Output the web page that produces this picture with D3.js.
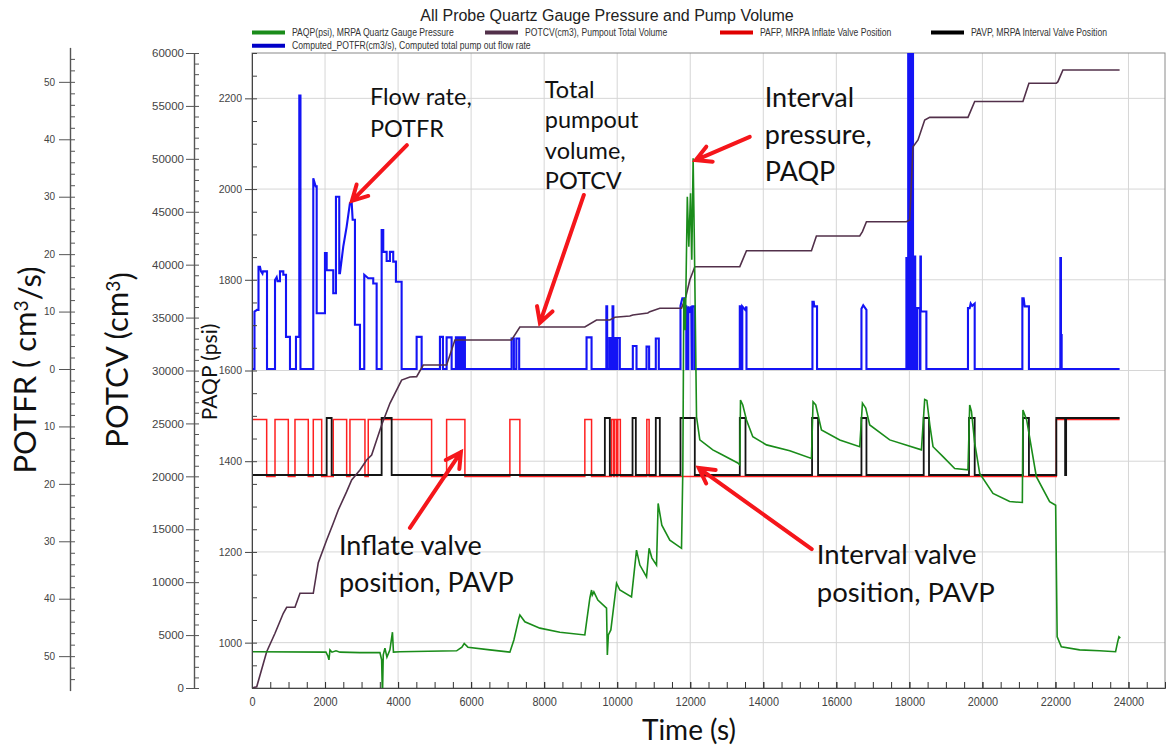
<!DOCTYPE html>
<html>
<head>
<meta charset="utf-8">
<script src="https://cdn.jsdelivr.net/npm/d3@7"></script>
<style>
  html, body { margin: 0; padding: 0; background: #fff; }
  svg { display: block; }
</style>
</head>
<body>
<svg id="chart" width="1166" height="748"></svg>
<script>
// ---- tick labels ----
const timeTicks = [0, 2000, 4000, 6000, 8000, 10000, 12000, 14000, 16000, 18000, 20000, 22000, 24000];
const paqpTicks = [1000, 1200, 1400, 1600, 1800, 2000, 2200];
const potcvTicks = [0, 5000, 10000, 15000, 20000, 25000, 30000, 35000, 40000, 45000, 50000, 55000, 60000];
const potfrTicks = [-50, -40, -30, -20, -10, 0, 10, 20, 30, 40, 50];

// ---- PAQP, interval pressure (s, psi) ----
const paqp = [
  [0, 980], [2025, 979], [2080, 970], [2107, 962], [2135, 984], [2190, 979], [2300, 982], [2409, 979],
  [2956, 978], [3503, 978], [3550, 962], [3572, 880], [3594, 973], [3640, 988], [3695, 968], [3777, 984],
  [3846, 1023], [3873, 979], [4051, 980], [5603, 982], [5748, 990], [5811, 998], [5912, 990], [6514, 984],
  [7061, 979], [7171, 1006], [7308, 1054], [7335, 1061], [7472, 1046], [7883, 1032], [8430, 1023],
  [9114, 1017], [9169, 1050], [9251, 1098], [9298, 1116], [9319, 1105], [9361, 1112], [9470, 1094],
  [9708, 1076], [9730, 973], [9758, 1017], [9826, 1028], [9982, 1131], [10072, 1116], [10392, 1101],
  [10529, 1204], [10620, 1171], [10803, 1145], [10874, 1208], [10948, 1187], [11077, 1171], [11121, 1307],
  [11222, 1259], [11441, 1226], [11761, 1208], [11797, 1381], [11824, 1760], [11865, 1689], [11920, 1983],
  [11961, 1873], [12008, 1991], [12043, 1844], [12079, 2068], [12112, 1888], [12172, 1498], [12262, 1447],
  [12618, 1425], [12809, 1417], [13302, 1396], [13357, 1392], [13376, 1535], [13439, 1524], [13540, 1491],
  [13713, 1454], [14088, 1436], [14725, 1423], [15319, 1406], [15363, 1531], [15437, 1524], [15593, 1469],
  [16094, 1447], [16641, 1432], [16715, 1528], [16805, 1517], [16915, 1480], [17462, 1447], [18330, 1425],
  [18420, 1536], [18480, 1534], [18560, 1480], [18648, 1432], [18921, 1410], [19241, 1384], [19605, 1381],
  [19652, 1524], [19700, 1510], [19790, 1440], [19926, 1373], [20290, 1329], [20746, 1311], [21094, 1309],
  [21110, 1513], [21212, 1491], [21477, 1366], [21841, 1311], [22006, 1303], [22047, 1013], [22161, 991],
  [22662, 984], [23209, 982], [23647, 980], [23702, 1001], [23738, 1013], [23776, 1010]
];

// ---- POTCV, pumpout total volume (s, cm3) ----
const potcv = [
  [0, 0], [129, 120], [402, 3430], [630, 5170], [857, 7060], [950, 7630], [1177, 7630], [1314, 8950],
  [1678, 8950], [1815, 11840], [2045, 13980], [2225, 15560], [2362, 16820], [2592, 18550], [2729, 19650],
  [2956, 20600], [3139, 21540], [3276, 22020], [3413, 23430], [3550, 24850], [3777, 26900], [4097, 29100],
  [4324, 29390], [4508, 29420], [4689, 30520], [5329, 30520], [5556, 32880], [7108, 32880], [7335, 34110],
  [9114, 34110], [9434, 34770], [9798, 34770], [9935, 35030], [10346, 35150], [10428, 35250], [10838, 35430],
  [10893, 35560], [11167, 35880], [11761, 35880], [11879, 36970], [11988, 38550], [12125, 39810],
  [13357, 39810], [13540, 41320], [15319, 41320], [15455, 42710], [16641, 42710], [16715, 43120],
  [16825, 44060], [17919, 44060], [18010, 44220], [18100, 51150], [18237, 51780], [18420, 53670],
  [18557, 53920], [19605, 53920], [19789, 55420], [21110, 55420], [21274, 57140], [22024, 57140],
  [22068, 57290], [22205, 58400], [23757, 58400]
];

// ---- Computed POTFR, pump out flow rate (s, cm3/s) ----
const potfr = [
  [0, 0], [68, 0], [68, 10], [137, 10.3], [178, 10.3], [178, 17.8], [219, 17.8], [246, 17], [287, 16.6], [301, 17], [411, 17], [411, 0],
  [630, 0], [630, 15.5], [676, 16], [698, 15.3], [766, 15.3], [766, 17], [857, 17], [857, 16.4], [931, 16.4], [931, 5.6], [1040, 5.6], [1040, 0],
  [1204, 0], [1204, 5.6], [1295, 5.6], [1295, 47.6], [1327, 47.6], [1327, 0],
  [1678, 0], [1678, 33.2], [1743, 31.8], [1771, 31.8], [1771, 9.7], [1998, 9.7], [1998, 20.2], [2045, 20.2], [2045, 17.2],
  [2225, 17.2], [2225, 13.2], [2299, 13.2], [2299, 30], [2389, 30], [2389, 16.7], [2409, 16.7], [2499, 21.3], [2592, 24.8],
  [2682, 28.9], [2729, 29.1], [2756, 26], [2819, 26], [2819, 7.7], [2956, 7.7], [2956, 0],
  [3074, 0], [3074, 16.4], [3183, 15.8], [3320, 15.8], [3320, 14.9], [3413, 14.9], [3413, 0],
  [3550, 0], [3550, 24.2], [3594, 24.2], [3594, 20.4], [3687, 20.4], [3687, 18.8], [3777, 18.8], [3777, 20.4], [3867, 20.4],
  [3867, 18.7], [3941, 18.7], [3941, 15.2], [4097, 15.2], [4097, 0],
  [4508, 0], [4508, 5.6], [4645, 5.6], [4645, 0],
  [5146, 0], [5146, 5.6], [5228, 5.6], [5228, 0], [5329, 0], [5329, 5.5], [5466, 5.5], [5466, 0],
  [5583, 0], [5583, 5.5], [5612, 5.5], [5612, 0], [5640, 0], [5640, 5.5], [5668, 5.5], [5668, 0], [5695, 0], [5695, 5.5],
  [5722, 5.5], [5722, 0], [5748, 0], [5748, 5.5], [5776, 5.5], [5776, 0], [5800, 0], [5800, 5.5], [5830, 5.5], [5830, 0],
  [7108, 0], [7108, 5.3], [7171, 5.3], [7171, 0], [7239, 0], [7239, 5.3], [7316, 5.3], [7316, 0],
  [9161, 0], [9161, 5.5], [9298, 5.5], [9298, 0],
  [9703, 0], [9703, 10.9], [9725, 10.9], [9725, 0], [9785, 0], [9785, 5.4], [9826, 5.4], [9826, 0], [9872, 0], [9872, 10.9],
  [9894, 10.9], [9894, 0], [9908, 0], [9908, 5.4], [9963, 5.4], [9963, 0], [10004, 0], [10004, 5.4], [10072, 5.4], [10072, 0],
  [10428, 0], [10428, 4], [10529, 4], [10529, 0],
  [10803, 0], [10803, 3.9], [10874, 3.9], [10874, 0],
  [11057, 0], [11057, 5.3], [11139, 5.3], [11139, 0],
  [11733, 0], [11733, 11], [11783, 12.3], [11837, 12.3], [11865, 10.9], [11892, 10.9], [11892, 0], [11947, 0], [11947, 10.9],
  [11988, 10.2], [12029, 10.9], [12043, 0], [12057, 0], [12057, 10.9], [12120, 10.9], [12120, 0],
  [13357, 0], [13357, 10.9], [13398, 10.9], [13398, 0], [13425, 0], [13425, 10.9], [13507, 10.3], [13540, 10.9], [13540, 0],
  [15346, 0], [15346, 11.7], [15382, 11.7], [15396, 10.9], [15472, 10.9], [15472, 0],
  [16688, 0], [16688, 10.5], [16737, 11.1], [16825, 10.3], [16825, 0],
  [17919, 0], [17919, 19.3], [17941, 19.3], [17941, 0], [17968, 0], [17968, 58], [17995, 58], [17995, 0], [18014, 0], [18014, 58],
  [18042, 58], [18042, 0], [18064, 0], [18064, 58], [18100, 58], [18100, 0], [18146, 0], [18146, 19.6], [18160, 19.6], [18160, 0],
  [18209, 0], [18209, 10.6], [18283, 10.6], [18283, 0], [18302, 0], [18302, 19.6], [18316, 19.6], [18316, 10], [18466, 10], [18466, 0],
  [19605, 0], [19605, 10.6], [19652, 10.6], [19679, 11.4], [19720, 11], [19789, 11.4], [19789, 0],
  [21094, 0], [21094, 12.3], [21130, 12.3], [21157, 10.9], [21274, 10.9], [21274, 0],
  [22134, 0], [22134, 19.3], [22151, 19.3], [22151, 5.9], [22170, 5.9], [22170, 0],
  [23757, 0]
];

// ---- valve positions: open intervals (s) ----
const pafpOpen = [
  [0, 402], [630, 994], [1177, 1541], [1678, 1908], [2225, 2592], [2682, 3093], [3183, 4918], [5329, 5830],
  [7061, 7335], [9114, 9298], [9840, 9895], [9922, 9977], [10017, 10086], [10811, 10874], [22024, 23757]
];
const pavpOpen = [
  [2045, 2181], [3550, 3824], [9662, 9798], [10420, 10510], [11057, 11167], [11733, 12125], [13357, 13513],
  [15336, 15500], [16688, 16825], [18393, 18538], [19633, 19789], [21110, 21274], [22024, 22265], [22293, 23757]
];
const valveEnd = 23757;

// ---- colours ----
const cGreen = "#1a8c1a", cPurple = "#52304a", cRed = "#ff2020", cBlack = "#141414", cBlue = "#1414f5";

const svg = d3.select("#chart");
const plot = { left: 252, right: 1165, top: 53, bottom: 688 };

const x = d3.scaleLinear().domain([0, 25000]).range([plot.left, plot.right]);
const yPaqp = d3.scaleLinear().domain([900, 2300]).range([plot.bottom, plot.top]);
const yPotcv = d3.scaleLinear().domain([0, 60000]).range([plot.bottom, plot.top]);
const yPotfr = d3.scaleLinear().domain([-56, 56]).range([690.6, 47.4]);
const yPafp = d3.scaleLinear().domain([0, 1]).range([476.5, 419.5]);
const yPavp = d3.scaleLinear().domain([0, 1]).range([475, 418]);

const tickFont = "'Liberation Sans', Arial, sans-serif";
const noteFont = "Lato, 'Open Sans', sans-serif";
const plain = d3.format("d");

// grid
const grid = svg.append("g");
grid.selectAll(".vg").data(timeTicks.filter(d => d > 0)).join("line")
  .attr("x1", d => x(d)).attr("x2", d => x(d))
  .attr("y1", plot.top).attr("y2", plot.bottom)
  .attr("stroke", "#d6d6d6").attr("stroke-width", 1);
grid.selectAll(".hg").data(paqpTicks).join("line")
  .attr("x1", plot.left).attr("x2", plot.right)
  .attr("y1", d => yPaqp(d)).attr("y2", d => yPaqp(d))
  .attr("stroke", "#d6d6d6").attr("stroke-width", 1);

svg.append("rect")
  .attr("x", plot.left).attr("y", plot.top)
  .attr("width", plot.right - plot.left).attr("height", plot.bottom - plot.top)
  .attr("fill", "none").attr("stroke", "#8a8a8a");

// series
svg.append("clipPath").attr("id", "clip")
  .append("rect")
  .attr("x", plot.left).attr("y", plot.top)
  .attr("width", plot.right - plot.left).attr("height", plot.bottom - plot.top);

const series = svg.append("g").attr("clip-path", "url(#clip)");

function valveSteps(intervals, tEnd) {
  const pts = [[0, intervals[0][0] === 0 ? 1 : 0]];
  intervals.forEach(([s, e]) => {
    if (s > 0) pts.push([s, 0], [s, 1]);
    pts.push([e, 1]);
    if (e < tEnd) pts.push([e, 0]);
  });
  const last = pts[pts.length - 1];
  if (last[0] < tEnd) pts.push([tEnd, last[1]]);
  return pts;
}

const lineOf = yScale => d3.line().x(d => x(d[0])).y(d => yScale(d[1]));

series.append("path").datum(potfr)
  .attr("d", lineOf(yPotfr))
  .attr("fill", "none").attr("stroke", cBlue).attr("stroke-width", 2.1);

series.append("path").datum(valveSteps(pafpOpen, valveEnd))
  .attr("d", lineOf(yPafp))
  .attr("fill", "none").attr("stroke", cRed).attr("stroke-width", 1.5);

series.append("path").datum(valveSteps(pavpOpen, valveEnd))
  .attr("d", lineOf(yPavp))
  .attr("fill", "none").attr("stroke", cBlack).attr("stroke-width", 1.8);

series.append("path").datum(potcv)
  .attr("d", lineOf(yPotcv))
  .attr("fill", "none").attr("stroke", cPurple).attr("stroke-width", 1.6);

series.append("path").datum(paqp)
  .attr("d", lineOf(yPaqp))
  .attr("fill", "none").attr("stroke", cGreen).attr("stroke-width", 1.6);

// axes
function styleAxis(g, color, size) {
  g.selectAll("path").attr("stroke", color);
  g.selectAll("line").attr("stroke", color);
  g.selectAll("text").attr("fill", "#444").style("font-size", size + "px").style("font-family", tickFont);
}

// x axis (labels squeezed to look like a narrow face)
const xMinor = svg.append("g").attr("transform", `translate(0,${plot.bottom})`)
  .call(d3.axisBottom(x).tickValues(d3.range(0, 25001, 500)).tickSizeInner(-6).tickSizeOuter(0).tickFormat(""));
styleAxis(xMinor, "#333", 12);
const xAxis = svg.append("g").attr("transform", `translate(0,${plot.bottom})`)
  .call(d3.axisBottom(x).tickValues(timeTicks).tickSizeInner(-6).tickSizeOuter(0).tickPadding(9).tickFormat(plain));
styleAxis(xAxis, "#333", 13);
xAxis.selectAll("text").attr("transform", "scale(0.84,1)");
xAxis.select(".domain").attr("stroke", "#444");

// PAQP axis
const pMinor = svg.append("g").attr("transform", `translate(${plot.left},0)`)
  .call(d3.axisLeft(yPaqp).tickValues(d3.range(900, 2301, 50)).tickSizeInner(-5).tickSizeOuter(0).tickFormat(""));
styleAxis(pMinor, "#444", 10);
const pAxis = svg.append("g").attr("transform", `translate(${plot.left},0)`)
  .call(d3.axisLeft(yPaqp).tickValues(paqpTicks).tickSizeInner(7).tickSizeOuter(0).tickPadding(3).tickFormat(plain));
styleAxis(pAxis, "#444", 10.5);

// POTCV axis
const vx = 194;
const vMinor = svg.append("g").attr("transform", `translate(${vx},0)`)
  .call(d3.axisLeft(yPotcv).tickValues(d3.range(0, 60001, 1000)).tickSizeInner(-5).tickSizeOuter(0).tickFormat(""));
styleAxis(vMinor, "#555", 10);
const vAxis = svg.append("g").attr("transform", `translate(${vx},0)`)
  .call(d3.axisLeft(yPotcv).tickValues(potcvTicks).tickSizeInner(8).tickSizeOuter(0).tickPadding(2).tickFormat(plain));
styleAxis(vAxis, "#555", 11.5);

// POTFR axis (mirrored labels)
const fx = 70;
const fMinor = svg.append("g").attr("transform", `translate(${fx},0)`)
  .call(d3.axisLeft(yPotfr).tickValues(d3.range(-54, 55, 2)).tickSizeInner(-5).tickSizeOuter(0).tickFormat(""));
styleAxis(fMinor, "#555", 10);
const fAxis = svg.append("g").attr("transform", `translate(${fx},0)`)
  .call(d3.axisLeft(yPotfr).tickValues(potfrTicks).tickSizeInner(11).tickSizeOuter(0).tickPadding(4).tickFormat(d => Math.abs(d)));
styleAxis(fAxis, "#555", 10);
[vAxis, fAxis].forEach(g => g.select(".domain").attr("stroke-width", 1.4));

// axis titles
function titleWithSup(g, before, sup, after) {
  g.append("tspan").text(before);
  g.append("tspan").attr("dy", "-0.42em").style("font-size", "0.62em").text(sup);
  g.append("tspan").attr("dy", "0.42em").text(after);
}
const tFr = svg.append("text")
  .attr("transform", "translate(36,370) rotate(-90)")
  .attr("text-anchor", "middle")
  .style("font-family", noteFont).style("font-size", "31px").attr("fill", "#111");
titleWithSup(tFr, "POTFR ( cm", "3", "/s)");

const tCv = svg.append("text")
  .attr("transform", "translate(128,360) rotate(-90)")
  .attr("text-anchor", "middle")
  .style("font-family", noteFont).style("font-size", "31px").attr("fill", "#111");
titleWithSup(tCv, "POTCV (cm", "3", ")");

svg.append("text")
  .attr("transform", "translate(217,372) rotate(-90)")
  .attr("text-anchor", "middle")
  .style("font-family", noteFont).style("font-size", "21px").attr("fill", "#111")
  .text("PAQP (psi)");

svg.append("text")
  .attr("x", 689).attr("y", 740)
  .attr("text-anchor", "middle")
  .style("font-family", noteFont).style("font-size", "28px").attr("fill", "#111")
  .text("Time (s)");

// chart title
svg.append("text")
  .attr("x", 607).attr("y", 20.5)
  .attr("text-anchor", "middle")
  .style("font-family", tickFont).style("font-size", "16px").attr("fill", "#222")
  .text("All Probe Quartz Gauge Pressure and Pump Volume");

// legend
const legendItems = [
  { label: "PAQP(psi), MRPA Quartz Gauge Pressure", color: cGreen, col: 252, row: 0 },
  { label: "POTCV(cm3), Pumpout Total Volume", color: cPurple, col: 485, row: 0 },
  { label: "PAFP, MRPA Inflate Valve Position", color: "#e00000", col: 720, row: 0 },
  { label: "PAVP, MRPA Interval Valve Position", color: "#000", col: 931, row: 0 },
  { label: "Computed_POTFR(cm3/s), Computed total pump out flow rate", color: "#0000c8", col: 252, row: 1 }
];
const legend = svg.append("g").selectAll("g").data(legendItems).join("g")
  .attr("transform", d => `translate(${d.col},${32.5 + d.row * 13.2})`);
legend.append("line").attr("x1", 0).attr("x2", 33).attr("stroke", d => d.color).attr("stroke-width", 4);
legend.append("text")
  .attr("transform", "translate(40,3.7) scale(0.82,1)")
  .style("font-family", tickFont).style("font-size", "10.5px").attr("fill", "#333")
  .text(d => d.label);

// annotations
const notes = [
  { lines: ["Flow rate,", "POTFR"], t: 3230, psi: 2185, size: 23.5, lead: 32 },
  { lines: ["Total", "pumpout", "volume,", "POTCV"], t: 8019, psi: 2201, size: 23.5, lead: 30.5 },
  { lines: ["Interval", "pressure,", "PAQP"], t: 14041, psi: 2181, size: 27, lead: 37 },
  { lines: ["Inflate valve", "position, PAVP"], t: 2381, psi: 1193, size: 27, lead: 37 },
  { lines: ["Interval valve", "position, PAVP"], t: 15464, psi: 1173, size: 27.5, lead: 38 }
];
const arrows = [
  { from: [4242, 2097], to: [2737, 1974] },
  { from: [9087, 1987], to: [7883, 1705] },
  { from: [13630, 2115], to: [12152, 2064] },
  { from: [4324, 1253], to: [5720, 1420] },
  { from: [15327, 1206], to: [12234, 1385] }
];

const noteG = svg.append("g");
notes.forEach(n => {
  const tx = noteG.append("text")
    .attr("x", x(n.t)).attr("y", yPaqp(n.psi))
    .style("font-family", noteFont).style("font-size", n.size + "px").attr("fill", "#111");
  n.lines.forEach((l, i) => {
    tx.append("tspan").attr("x", x(n.t)).attr("dy", i === 0 ? 0 : n.lead).text(l);
  });
});

arrows.forEach(a => {
  const x0 = x(a.from[0]), y0 = yPaqp(a.from[1]);
  const x1 = x(a.to[0]), y1 = yPaqp(a.to[1]);
  const ang = Math.atan2(y1 - y0, x1 - x0);
  const len = 17, spread = 0.5;
  const p1 = [x1 - len * Math.cos(ang - spread), y1 - len * Math.sin(ang - spread)];
  const p2 = [x1 - len * Math.cos(ang + spread), y1 - len * Math.sin(ang + spread)];
  noteG.append("path")
    .attr("d", `M${x0},${y0}L${x1},${y1}M${p1[0]},${p1[1]}L${x1},${y1}L${p2[0]},${p2[1]}`)
    .attr("fill", "none").attr("stroke", "#f5161b").attr("stroke-width", 4)
    .attr("stroke-linecap", "round").attr("stroke-linejoin", "miter");
});
</script>
</body>
</html>
